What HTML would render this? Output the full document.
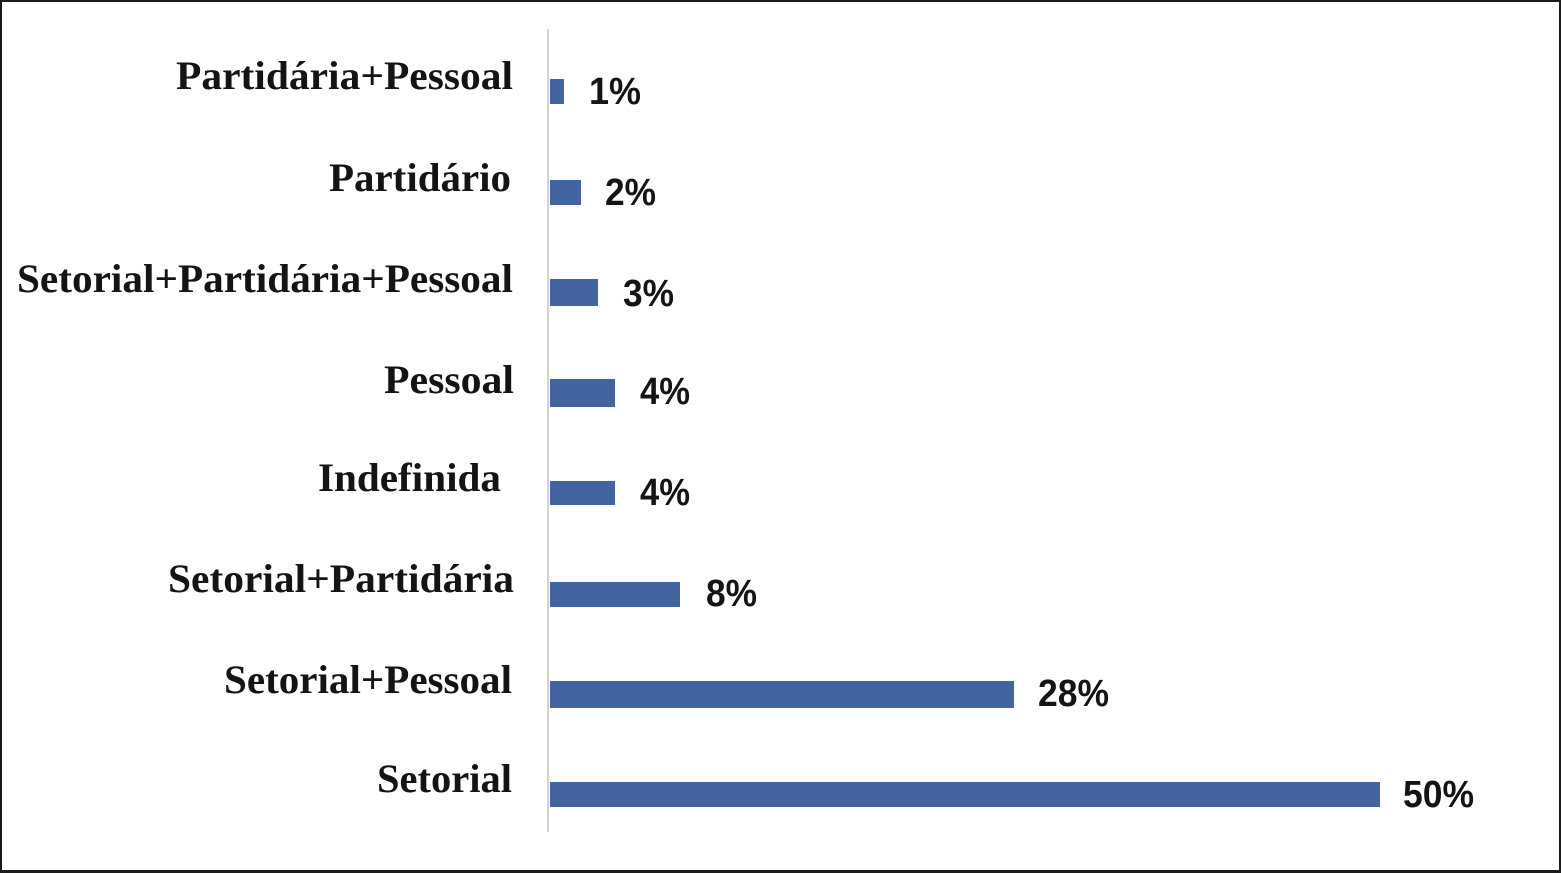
<!DOCTYPE html>
<html>
<head>
<meta charset="utf-8">
<style>
  html,body{margin:0;padding:0;background:#fff;}
  svg{display:block;}
  .lab{font-family:"Liberation Serif",serif;font-weight:bold;font-size:40px;fill:#161412;}
  .val{font-family:"Liberation Sans",sans-serif;font-weight:bold;font-size:38px;fill:#161412;}
</style>
</head>
<body>
<svg width="1561" height="873" viewBox="0 0 1561 873" xmlns="http://www.w3.org/2000/svg">
  <rect x="0" y="0" width="1561" height="873" fill="#fff"/>
  <!-- border -->
  <rect x="1" y="1" width="1559" height="870" fill="none" stroke="#1a1a1a" stroke-width="2"/>
  <rect x="0" y="870" width="1561" height="3" fill="#1a1a1a"/>
  <!-- axis -->
  <rect x="547" y="29" width="2" height="803" fill="#d8d2cc"/>
  <!-- bars -->
  <g fill="#4264a0">
    <rect x="550" y="79" width="14" height="25"/>
    <rect x="550" y="180" width="31" height="25"/>
    <rect x="550" y="279" width="48" height="27"/>
    <rect x="550" y="379" width="65" height="28"/>
    <rect x="550" y="481" width="65" height="24"/>
    <rect x="550" y="582" width="130" height="25"/>
    <rect x="550" y="681" width="464" height="27"/>
    <rect x="550" y="782" width="830" height="25"/>
  </g>
  <!-- category labels -->
  <text class="lab" x="176" y="89" textLength="337" lengthAdjust="spacingAndGlyphs">Partidária+Pessoal</text>
  <text class="lab" x="329" y="191" textLength="182" lengthAdjust="spacingAndGlyphs">Partidário</text>
  <text class="lab" x="17" y="292" textLength="496" lengthAdjust="spacingAndGlyphs">Setorial+Partidária+Pessoal</text>
  <text class="lab" x="384" y="393" textLength="130" lengthAdjust="spacingAndGlyphs">Pessoal</text>
  <text class="lab" x="318" y="491" textLength="183" lengthAdjust="spacingAndGlyphs">Indefinida</text>
  <text class="lab" x="168" y="592" textLength="346" lengthAdjust="spacingAndGlyphs">Setorial+Partidária</text>
  <text class="lab" x="224" y="693" textLength="288" lengthAdjust="spacingAndGlyphs">Setorial+Pessoal</text>
  <text class="lab" x="377" y="792" textLength="135" lengthAdjust="spacingAndGlyphs">Setorial</text>
  <!-- values -->
  <text class="val" x="589" y="104" textLength="52" lengthAdjust="spacingAndGlyphs">1%</text>
  <text class="val" x="605" y="205" textLength="51" lengthAdjust="spacingAndGlyphs">2%</text>
  <text class="val" x="623" y="306" textLength="51" lengthAdjust="spacingAndGlyphs">3%</text>
  <text class="val" x="640" y="404" textLength="50" lengthAdjust="spacingAndGlyphs">4%</text>
  <text class="val" x="640" y="505" textLength="50" lengthAdjust="spacingAndGlyphs">4%</text>
  <text class="val" x="706" y="606" textLength="51" lengthAdjust="spacingAndGlyphs">8%</text>
  <text class="val" x="1038" y="706" textLength="71" lengthAdjust="spacingAndGlyphs">28%</text>
  <text class="val" x="1403" y="807" textLength="71" lengthAdjust="spacingAndGlyphs">50%</text>
</svg>
</body>
</html>
